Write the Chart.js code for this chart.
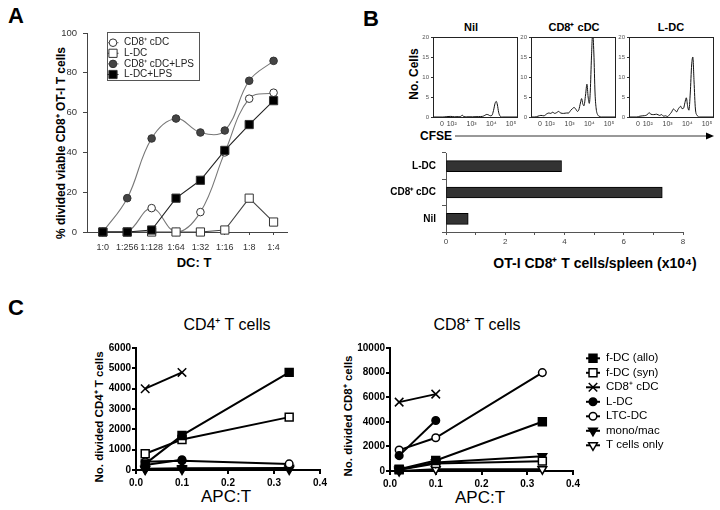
<!DOCTYPE html>
<html>
<head>
<meta charset="utf-8">
<script src="https://cdn.jsdelivr.net/npm/chart.js@4.4.0/dist/chart.umd.min.js"></script>
<style>
body { margin: 0; width: 720px; height: 510px; position: relative; overflow: hidden; background: #fff;
       font-family: Arial, "Liberation Sans", sans-serif; }
canvas { position: absolute; }
.t { position: absolute; white-space: nowrap; line-height: 1; color: #000; transform: translate(-50%, -50%); }
.b { font-weight: bold; }
.r { transform: translate(-50%, -50%) rotate(-90deg); }
</style>
</head>
<body>
<div class="t b" style="left:16px;top:16px;font-size:22px">A</div>
<div class="t b" style="left:371px;top:19px;font-size:22px">B</div>
<div class="t b" style="left:16px;top:308px;font-size:22px">C</div>

<div class="t b r" style="left:61px;top:143px;font-size:12px">% divided viable CD8⁺ OT-I T cells</div>
<div class="t b" style="left:194px;top:262px;font-size:13px">DC: T</div>

<div class="t b" style="left:471px;top:27px;font-size:11px">Nil</div>
<div class="t b" style="left:574px;top:27px;font-size:11px">CD8⁺ cDC</div>
<div class="t b" style="left:671px;top:27px;font-size:11px">L-DC</div>
<div class="t b r" style="left:414px;top:74px;font-size:12px">No. Cells</div>
<div class="t b" style="left:436px;top:136px;font-size:12px">CFSE</div>
<svg style="position:absolute;left:454px;top:131px" width="262" height="10">
  <line x1="1" y1="5" x2="252" y2="5" stroke="#333" stroke-width="1"/>
  <polygon points="252,1.5 260,5 252,8.5" fill="#000"/>
</svg>
<div class="t b" style="left:595px;top:263px;font-size:14px">OT-I CD8⁺ T cells/spleen (x10⁴)</div>

<div class="t" style="left:227px;top:325px;font-size:16px">CD4⁺ T cells</div>
<div class="t" style="left:477px;top:325px;font-size:16px">CD8⁺ T cells</div>
<div class="t b r" style="left:100px;top:417px;font-size:11.5px">No. divided CD4⁺ T cells</div>
<div class="t b r" style="left:349px;top:416px;font-size:11.5px">No. divided CD8⁺ cells</div>
<div class="t" style="left:226px;top:496px;font-size:17px">APC:T</div>
<div class="t" style="left:480px;top:497px;font-size:17px">APC:T</div>

<script>
// ---- A: proliferation vs DC:T ratio ----
const dcRatios = ['1:0', '1:256', '1:128', '1:64', '1:32', '1:16', '1:8', '1:4'];
const cd8cDC = [0, 0, 12, 0, 10, 40, 67, 70];
const lDC = [0, 0, 0, 0, 0, 1, 17, 5];
const cd8cDCLps = [0, 17, 47, 57, 50, 51, 76, 86];
const lDCLps = [0, 0, 1, 17, 26, 41, 54, 66];

// ---- B: CFSE histograms (x in log10 units, y = no. cells) ----
const cfseTickPos = [1.55, 2.05, 3.05, 4.05, 5.05];
const cfseTickLabels = ['0', '10²', '10³', '10⁴', '10⁵'];
const nilX = [1.1, 1.6, 1.8, 2.0, 2.2, 2.4, 2.5, 2.58, 2.66, 2.8, 3.1, 3.4, 3.6, 3.72, 3.82, 3.92, 4.0, 4.08, 4.16, 4.24, 4.3, 4.36, 4.42, 4.5, 4.6, 5.35];
const nilY = [0, 0, 0.1, 0.15, 0.05, 0.1, 0.15, 0.45, 0.1, 0.05, 0.05, 0.1, 0.15, 0.4, 0.65, 0.5, 0.3, 0.4, 1.6, 3.4, 3.9, 3.0, 1.2, 0.2, 0, 0];
const cd8X = [1.1, 1.3, 1.45, 1.6, 1.75, 1.9, 2.0, 2.1, 2.2, 2.3, 2.4, 2.5, 2.6, 2.75, 2.9, 3.0, 3.1, 3.2, 3.28, 3.36, 3.45, 3.52, 3.6, 3.66, 3.72, 3.78, 3.86, 3.93, 3.99, 4.05, 4.1, 4.16, 4.22, 4.28, 4.34, 4.4, 4.47, 4.55, 4.65, 5.35];
const cd8Y = [0, 0, 0.2, 0.4, 0.3, 0.8, 1.0, 0.9, 1.2, 0.9, 1.1, 1.4, 1.0, 0.9, 1.0, 1.0, 1.6, 2.1, 2.4, 2.0, 1.4, 1.8, 3.5, 4.6, 3.3, 2.8, 5.5, 8.2, 5.0, 3.4, 6.5, 15, 21, 16, 6, 2, 0.6, 0.2, 0, 0];
const ldcX = [1.1, 1.5, 1.65, 1.8, 1.95, 2.05, 2.12, 2.2, 2.35, 2.5, 2.65, 2.75, 2.85, 2.95, 3.05, 3.15, 3.25, 3.35, 3.44, 3.52, 3.58, 3.65, 3.71, 3.78, 3.86, 3.93, 4.0, 4.07, 4.13, 4.2, 4.27, 4.33, 4.39, 4.46, 4.55, 4.65, 5.35];
const ldcY = [0, 0, 0.2, 0.3, 0.4, 0.7, 1.1, 0.7, 0.6, 0.7, 0.4, 0.6, 0.2, 0.3, 0.1, 0.6, 1.2, 2.0, 1.6, 1.3, 1.9, 2.4, 2.7, 2.1, 2.2, 3.6, 4.8, 2.6, 1.7, 6, 13, 15, 9, 2, 0.4, 0, 0];

// ---- B: OT-I cells per spleen (x10^4) ----
const spleenGroups = ['L-DC', 'CD8⁺ cDC', 'Nil'];
const spleenCounts = [3.9, 7.3, 0.75];

// ---- C: divided T cells vs APC:T ----
const apcRatio = [0.02, 0.1, 0.333];
const seriesNames = ['f-DC (allo)', 'f-DC (syn)', 'CD8⁺ cDC', 'L-DC', 'LTC-DC', 'mono/mac', 'T cells only'];
const cd4FdcAllo = [300, 1700, 4800];
const cd4FdcSyn = [800, 1500, 2600];
const cd4Cd8cDC = [4000, 4800];
const cd4LDC = [250, 500];
const cd4LtcDC = [400, 450, 300];
const cd4Mono = [60, 90, 100];
const cd4Tonly = [20, 30, 30];
const cd8FdcAllo = [150, 850, 4000];
const cd8FdcSyn = [100, 600, 800];
const cd8Cd8cDC = [5600, 6250];
const cd8LDC = [1250, 4100];
const cd8LtcDC = [1700, 2700, 8000];
const cd8Mono = [100, 700, 1200];
const cd8Tonly = [0, 150, 150];

Chart.defaults.font.family = 'Arial, "Liberation Sans", sans-serif';
Chart.defaults.color = '#000';
Chart.defaults.animation = false;
Chart.defaults.plugins.legend.display = false;
Chart.defaults.plugins.tooltip.enabled = false;

// legend with a line through each marker
Chart.register({
  id: 'lineLegend',
  afterDraw(chart, args, o) {
    if (!o.show) return;
    const ctx = chart.ctx;
    ctx.save();
    if (o.box) {
      ctx.strokeStyle = o.box.color; ctx.lineWidth = 1;
      ctx.strokeRect(o.box.x, o.box.y, o.box.w, o.box.h);
    }
    chart.data.datasets.forEach((ds, i) => {
      const y = o.y + i * o.dy;
      ctx.strokeStyle = ds.borderColor; ctx.lineWidth = ds.borderWidth;
      ctx.beginPath(); ctx.moveTo(o.x - o.len / 2, y); ctx.lineTo(o.x + o.len / 2, y); ctx.stroke();
      ctx.fillStyle = ds.pointBackgroundColor; ctx.strokeStyle = ds.pointBorderColor; ctx.lineWidth = ds.pointBorderWidth;
      Chart.helpers.drawPoint(ctx, { pointStyle: ds.pointStyle, radius: ds.pointRadius,
        rotation: ds.pointRotation || 0, borderWidth: ds.pointBorderWidth }, o.x, y);
      ctx.fillStyle = o.color; ctx.font = o.font; ctx.textAlign = 'left'; ctx.textBaseline = 'middle';
      ctx.fillText(ds.label, o.textX, y);
    });
    ctx.restore();
  }
});

// box around the plot area
Chart.register({
  id: 'frame',
  afterDraw(chart, args, o) {
    if (!o.show) return;
    const a = chart.chartArea, ctx = chart.ctx;
    ctx.save(); ctx.strokeStyle = '#222'; ctx.lineWidth = 1;
    ctx.strokeRect(Math.round(a.left) + 0.5, Math.round(a.top) + 0.5, a.right - a.left, a.bottom - a.top);
    ctx.restore();
  }
});

function mk(left, top, w, h) {
  const c = document.createElement('canvas');
  c.width = w; c.height = h;
  c.style.left = left + 'px'; c.style.top = top + 'px';
  c.style.width = w + 'px'; c.style.height = h + 'px';
  document.body.appendChild(c);
  return c;
}
const fit = (prop, v) => s => { s[prop] = v; s.paddingLeft = 0; s.paddingRight = 0; s.paddingTop = 0; s.paddingBottom = 0; };
const pts = (xs, ys) => ys.map((y, i) => ({ x: xs[i], y }));

// ---------- panel A ----------
function aSet(label, ys, style, fill, line, tension, order) {
  return { label, data: ys.map((y, i) => ({ x: i, y })), pointStyle: style, pointRadius: style === 'rect' ? 5.8 : 3.8,
    pointBackgroundColor: fill, pointBorderColor: '#333', pointBorderWidth: 1,
    borderColor: line, borderWidth: 1.1, tension, order, clip: false };
}
new Chart(mk(0, 0, 300, 262), {
  type: 'line',
  data: { datasets: [
    aSet('CD8⁺ cDC', cd8cDC, 'circle', '#fff', '#777', 0.4, 3),
    aSet('L-DC', lDC, 'rect', '#fff', '#444', 0, 2),
    aSet('CD8⁺ cDC+LPS', cd8cDCLps, 'circle', '#444', '#777', 0.4, 1),
    aSet('L-DC+LPS', lDCLps, 'rect', '#000', '#222', 0, 0)
  ] },
  options: {
    responsive: false,
    layout: { padding: { left: 0, top: 33, right: 13, bottom: 0 } },
    scales: {
      x: { type: 'linear', min: -0.65, max: 7.55,
        afterBuildTicks: s => { s.ticks = dcRatios.map((c, i) => ({ value: i })); },
        ticks: { callback: v => dcRatios[v], autoSkip: false, maxRotation: 0, font: { size: 9 }, color: '#333', padding: 7 },
        grid: { drawOnChartArea: false, tickLength: 3, color: '#444' }, border: { color: '#444' },
        afterFit: fit('height', 30) },
      y: { min: 0, max: 100, ticks: { stepSize: 20, font: { size: 9.5 }, color: '#333', padding: 6 },
        grid: { drawOnChartArea: false, tickLength: 4, color: '#444' }, border: { color: '#444' },
        afterFit: fit('width', 87) }
    },
    plugins: { lineLegend: { show: true, x: 113, len: 11, textX: 124, y: 42.7, dy: 10.6,
      font: '10px Arial, "Liberation Sans", sans-serif', color: '#222',
      box: { x: 107.5, y: 32.5, w: 92, h: 48, color: '#555' } } }
  }
});

// ---------- panel B histograms ----------
function hist(left, xs, ys) {
  new Chart(mk(left - 16, 34, 106, 97), {
    type: 'line',
    data: { datasets: [{ data: pts(xs, ys), borderColor: '#111', borderWidth: 1, pointRadius: 0,
      cubicInterpolationMode: 'monotone', clip: 0 }] },
    options: {
      responsive: false,
      layout: { padding: { left: 0, top: 3, right: 6, bottom: 0 } },
      scales: {
        x: { type: 'linear', min: 1.1, max: 5.35,
          afterBuildTicks: s => { s.ticks = cfseTickPos.map(v => ({ value: v })); },
          ticks: { callback: (v, i) => cfseTickLabels[i], autoSkip: false, maxRotation: 0,
            font: { size: 7 }, color: '#444', padding: 3 },
          grid: { drawOnChartArea: false, drawTicks: false }, border: { color: '#222' },
          afterFit: fit('height', 14) },
        y: { min: 0, max: 20, ticks: { stepSize: 5, font: { size: 6 }, color: '#555', padding: 2 },
          grid: { drawOnChartArea: false, tickLength: 2, color: '#333' }, border: { color: '#222' },
          afterFit: fit('width', 16) }
      },
      plugins: { frame: { show: true } }
    }
  });
}
hist(433, nilX, nilY);
hist(531, cd8X, cd8Y);
hist(629, ldcX, ldcY);

// ---------- panel B bars ----------
new Chart(mk(380, 145, 320, 105), {
  type: 'bar',
  data: { labels: spleenGroups, datasets: [{ data: spleenCounts, backgroundColor: '#333', borderColor: '#000',
    borderWidth: 1, borderSkipped: false, barThickness: 11 }] },
  options: {
    responsive: false, indexAxis: 'y',
    layout: { padding: { left: 0, top: 8, right: 17, bottom: 0 } },
    scales: {
      x: { min: 0, max: 8, ticks: { stepSize: 1, autoSkip: false, callback: v => (v % 2 === 0 ? v : ''),
          font: { size: 8 }, color: '#444', padding: 2 },
        grid: { drawOnChartArea: false, tickLength: 3, color: '#555' }, border: { color: '#555' },
        afterFit: fit('height', 18) },
      y: { grid: { offset: true, drawOnChartArea: false, tickLength: 4, color: '#555' }, border: { color: '#555' },
        ticks: { font: { size: 10, weight: 'bold' }, color: '#000', padding: 6 },
        afterFit: fit('width', 66) }
    }
  }
});

// ---------- panel C ----------
const cStyles = [
  { pointStyle: 'rect', pointRadius: 5.6, pointBackgroundColor: '#000' },
  { pointStyle: 'rect', pointRadius: 5.6, pointBackgroundColor: '#fff' },
  { pointStyle: 'crossRot', pointRadius: 6, pointBackgroundColor: '#000' },
  { pointStyle: 'circle', pointRadius: 3.8, pointBackgroundColor: '#000' },
  { pointStyle: 'circle', pointRadius: 3.8, pointBackgroundColor: '#fff' },
  { pointStyle: 'triangle', pointRadius: 5, pointRotation: 180, pointBackgroundColor: '#000' },
  { pointStyle: 'triangle', pointRadius: 5, pointRotation: 180, pointBackgroundColor: '#fff' }
];
function cSets(groups) {
  return groups.map((ys, k) => Object.assign({ label: seriesNames[k], data: pts(apcRatio, ys),
    showLine: true, borderColor: '#000', borderWidth: 2, pointBorderColor: '#000', pointBorderWidth: 1.5,
    clip: false }, cStyles[k]));
}
function cScales(yMax, yStep, yw, xh) {
  return {
    x: { type: 'linear', min: 0, max: 0.4,
      ticks: { stepSize: 0.1, callback: v => v.toFixed(1), font: { size: 10, weight: 'bold' }, color: '#000', padding: 3 },
      grid: { drawOnChartArea: false, tickLength: 4, color: '#000', lineWidth: 2 }, border: { color: '#000', width: 2 },
      afterFit: fit('height', xh) },
    y: { min: 0, max: yMax,
      ticks: { stepSize: yStep, callback: v => String(v), font: { size: 10, weight: 'bold' }, color: '#000', padding: 1 },
      grid: { drawOnChartArea: false, tickLength: 4, color: '#000', lineWidth: 2 }, border: { color: '#000', width: 2 },
      afterFit: fit('width', yw) }
  };
}
new Chart(mk(60, 340, 270, 150), {
  type: 'scatter',
  data: { datasets: cSets([cd4FdcAllo, cd4FdcSyn, cd4Cd8cDC, cd4LDC, cd4LtcDC, cd4Mono, cd4Tonly]) },
  options: { responsive: false, layout: { padding: { left: 0, top: 8, right: 10, bottom: 0 } },
    scales: cScales(6000, 1000, 76, 20) }
});
new Chart(mk(330, 330, 390, 160), {
  type: 'scatter',
  data: { datasets: cSets([cd8FdcAllo, cd8FdcSyn, cd8Cd8cDC, cd8LDC, cd8LtcDC, cd8Mono, cd8Tonly]) },
  options: { responsive: false, layout: { padding: { left: 0, top: 18, right: 147, bottom: 0 } },
    scales: cScales(10000, 2000, 60, 19),
    plugins: { lineLegend: { show: true, x: 263, len: 14, textX: 276, y: 28.3, dy: 14.5,
      font: '11.5px Arial, "Liberation Sans", sans-serif', color: '#000' } } }
});
</script>
</body>
</html>
